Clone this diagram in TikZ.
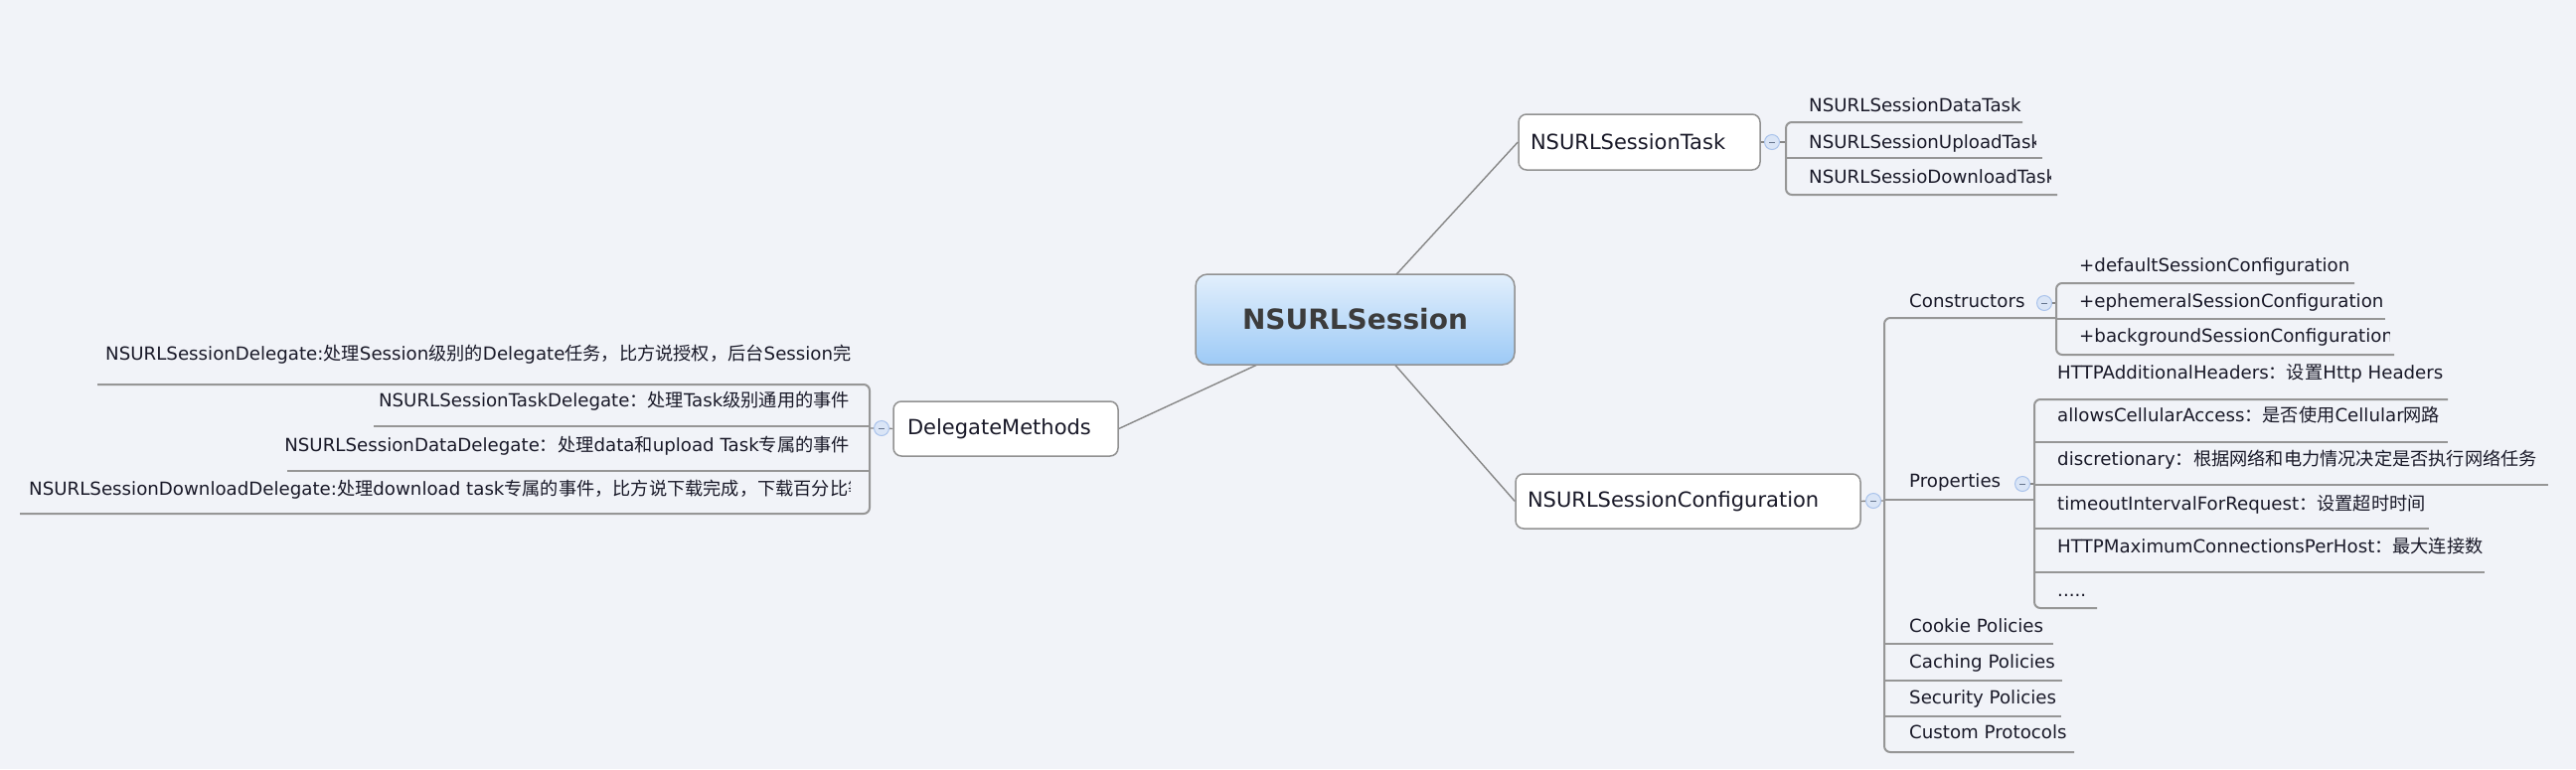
\documentclass[tikz,border=0pt]{standalone}
\usepackage{fontspec}
\setmainfont{DejaVu Sans}
\newfontfamily\cjkfont{Noto Sans CJK SC}
\newcommand\zhtxt[1]{{\cjkfont #1}}
\pgfdeclarelayer{bglayer}
\pgfdeclarelayer{linelayer}
\pgfsetlayers{bglayer,linelayer,main}
\definecolor{bgc}{RGB}{241,243,248}
\definecolor{linec}{RGB}{135,135,135}
\definecolor{ulc}{RGB}{150,150,150}
\definecolor{boxc}{RGB}{145,145,145}
\definecolor{txtc}{RGB}{25,25,40}
\definecolor{rootTop}{RGB}{226,239,252}
\definecolor{rootBot}{RGB}{157,202,246}
\definecolor{togfill}{RGB}{218,229,246}
\definecolor{togdraw}{RGB}{170,195,235}
\definecolor{roottxt}{RGB}{60,60,60}
\begin{document}
\begin{tikzpicture}[x=1pt,y=-1pt,
  conn/.style={draw=linec,line width=1.4pt},
  ul/.style={draw=ulc,line width=2pt,rounded corners=6pt},
  lbl/.style={inner sep=0pt,anchor=base west,text=txtc,font=\fontsize{18.2}{20}\selectfont},
  lblr/.style={lbl,anchor=base east},
  topic/.style={draw=boxc,line width=1.5pt,fill=white,rounded corners=8pt,inner ysep=0pt,align=left,text=txtc,font=\fontsize{21}{24}\selectfont},
  tog/.style={circle,draw=togdraw,fill=togfill,line width=1pt,minimum size=15pt,inner sep=0pt,
    path picture={\draw[togdraw!60!black,line width=1pt] ([xshift=-3pt]path picture bounding box.center) -- ([xshift=3pt]path picture bounding box.center);}},
]
\begin{pgfonlayer}{bglayer}
\fill[bgc] (0,0) rectangle (2592,774);
\end{pgfonlayer}
\useasboundingbox (0,0) rectangle (2592,774);

% central topic
\node[draw=boxc,line width=1.5pt,rounded corners=12pt,top color=rootTop,bottom color=rootBot,
  minimum width=321pt,minimum height=91pt,inner sep=0pt,text=roottxt,
  font=\bfseries\fontsize{28}{32}\selectfont] (root) at (1363.5,321.5) {NSURLSession};

% main topics
\node[topic,inner xsep=12pt,text width=219pt,minimum height=56pt] (task) at (1649.5,143) {NSURLSessionTask};
\node[topic,inner xsep=12pt,text width=323pt,minimum height=55pt] (conf) at (1698.5,504.5) {NSURLSessionConfiguration};
\node[topic,inner xsep=14pt,text width=198pt,minimum height=55pt] (deleg) at (1012,431.5) {DelegateMethods};

% toggles
\node[tog] (tgTask) at (1783,143) {};
\node[tog] (tgConf) at (1885,504) {};
\node[tog] (tgDel) at (887,431) {};
\node[tog] (tgCtor) at (2057,305) {};
\node[tog] (tgProp) at (2035,487) {};

\coordinate (brTask) at (1797,143);
\coordinate (brConf) at (1896,504);
\coordinate (brDel) at (875,431);
\coordinate (brCtor) at (2069,305);
\coordinate (brProp) at (2047,487);

\begin{pgfonlayer}{linelayer}
\draw[conn] (root.center) -- (task.west);
\draw[conn] (root.center) -- (conf.west);
\draw[conn] (root.center) -- (deleg.east);
\draw[conn] (task.east) -- (tgTask) -- (brTask);
\draw[conn] (conf.east) -- (tgConf) -- (brConf);
\draw[conn] (deleg.west) -- (tgDel) -- (brDel);
\draw[conn] (tgCtor) -- (brCtor);
\draw[conn] (tgProp) -- (brProp);
\end{pgfonlayer}

% ---- NSURLSessionTask children
\node[lbl] (t1) at (1820,112) {NSURLSessionDataTask};
\begin{scope}
\clip (1805,125) rectangle (2048,165);
\node[lbl] (t2) at (1820,149) {NSURLSessionUploadTask};
\end{scope}
\begin{scope}
\clip (1805,162) rectangle (2063,200);
\node[lbl] (t3) at (1820,184) {NSURLSessioDownloadTask};
\end{scope}
\draw[ul] (2035,123) -- (1797,123) -- (1797,196) -- (2070,196);
\draw[ul] (1797,159) -- (2055,159);

% ---- Configuration children
\draw[ul] (2069,320) -- (1896,320) -- (1896,757) -- (2087,757);
\node[lbl] (ctor) at (1921,309) {Constructors};
\node[lbl] (c1) at (2092,273) {+defaultSessionConfiguration};
\node[lbl] (c2) at (2092,309) {+ephemeralSessionConfiguration};
\begin{scope}
\clip (2080,325) rectangle (2404,360);
\node[lbl] (c3) at (2092,344) {+backgroundSessionConfiguration};
\end{scope}
\draw[ul] (2369,285) -- (2069,285) -- (2069,357) -- (2409,357);
\draw[ul] (2069,321) -- (2400,321);

\node[lbl] (prop) at (1921,490) {Properties};
\draw[ul] (1896,503) -- (2047,503);
\node[lbl] (p1) at (2070,381) {HTTPAdditionalHeaders\zhtxt{：设置}Http Headers};
\node[lbl] (p2) at (2070,424) {allowsCellularAccess\zhtxt{：是否使用}Cellular\zhtxt{网路}};
\node[lbl] (p3) at (2070,468) {discretionary\zhtxt{：根据网络和电力情况决定是否执行网络任务}};
\node[lbl] (p4) at (2070,513) {timeoutIntervalForRequest\zhtxt{：设置超时时间}};
\node[lbl] (p5) at (2070,556) {HTTPMaximumConnectionsPerHost\zhtxt{：最大连接数}};
\node[lbl] (p6) at (2070,600) {.....};
\draw[ul] (2463,402) -- (2047,402) -- (2047,612) -- (2110,612);
\draw[ul] (2047,445) -- (2463,445);
\draw[ul] (2047,488) -- (2564,488);
\draw[ul] (2047,532) -- (2444,532);
\draw[ul] (2047,576) -- (2500,576);

\node[lbl] (pol1) at (1921,636) {Cookie Policies};
\node[lbl] (pol2) at (1921,672) {Caching Policies};
\node[lbl] (pol3) at (1921,708) {Security Policies};
\node[lbl] (pol4) at (1921,743) {Custom Protocols};
\draw[ul] (1896,648) -- (2066,648);
\draw[ul] (1896,685) -- (2075,685);
\draw[ul] (1896,721) -- (2074,721);

% ---- DelegateMethods children
\begin{scope}
\clip (90,335) rectangle (855,380);
\node[lbl] (d1) at (106,362) {NSURLSessionDelegate:\zhtxt{处理}Session\zhtxt{级别的}Delegate\zhtxt{任务，比方说授权，后台}Session\zhtxt{完成}};
\end{scope}
\node[lblr] (d2) at (855,409) {NSURLSessionTaskDelegate\zhtxt{：处理}Task\zhtxt{级别通用的事件}};
\node[lblr] (d3) at (855,454) {NSURLSessionDataDelegate\zhtxt{：处理}data\zhtxt{和}upload Task\zhtxt{专属的事件}};
\begin{scope}
\clip (15,475) rectangle (855,512);
\node[lbl] (d4) at (29,498) {NSURLSessionDownloadDelegate:\zhtxt{处理}download task\zhtxt{专属的事件，比方说下载完成，下载百分比等}};
\end{scope}
\draw[ul] (98,387) -- (875,387) -- (875,517) -- (20,517);
\draw[ul] (376,429) -- (875,429);
\draw[ul] (289,474) -- (875,474);
\end{tikzpicture}
\end{document}
